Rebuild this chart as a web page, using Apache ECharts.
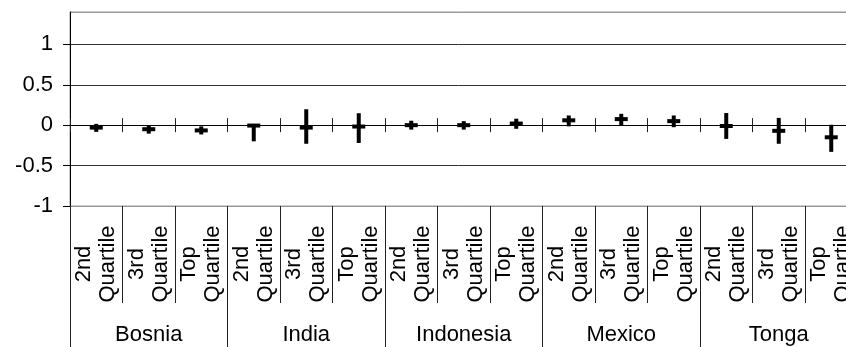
<!DOCTYPE html>
<html>
<head>
<meta charset="utf-8">
<script src="https://cdn.jsdelivr.net/npm/echarts@6/dist/echarts.min.js"></script>
<style>
  html, body { margin: 0; padding: 0; background: #fff; }
  #chart { width: 846px; height: 347px; }
</style>
</head>
<body>
<div id="chart"></div>
<script>
// Country groups and the quartile sub-categories within each group
const countries = ['Bosnia', 'India', 'Indonesia', 'Mexico', 'Tonga'];
const quartiles = ['2nd\nQuartile', '3rd\nQuartile', 'Top\nQuartile'];

// Point estimates, in category order (country × quartile)
const estimate = [-0.03, -0.05, -0.065, -0.005, -0.03, -0.017, 0.0, 0.0, 0.02, 0.06, 0.075, 0.05, -0.01, -0.07, -0.15];
// Interval bounds
const lower = [-0.083, -0.105, -0.115, -0.2, -0.23, -0.22, -0.055, -0.055, -0.045, -0.015, 0.0, -0.025, -0.17, -0.23, -0.33];
const upper = [0.016, -0.005, -0.015, 0.0, 0.197, 0.148, 0.055, 0.05, 0.08, 0.12, 0.14, 0.12, 0.15, 0.09, 0.005];

// Y axis range
const yMin = -1, yMax = 1.4, yStep = 0.5;

const categories = [];
countries.forEach(() => quartiles.forEach(q => categories.push(q)));
const points = categories.map((c, i) => [i, estimate[i], lower[i], upper[i]]);

const FONT = 'Liberation Sans, Arial, sans-serif';

const chart = echarts.init(document.getElementById('chart'), null, { renderer: 'canvas' });

chart.setOption({
  animation: false,
  backgroundColor: '#fff',
  grid: {
    // plot area runs past the right edge of the canvas
    left: 70, width: 787.5, top: 12, bottom: 141,
    outerBoundsMode: 'none', containLabel: false,
    show: true, borderColor: '#999', borderWidth: 1, backgroundColor: 'transparent'
  },
  xAxis: [
    {
      // quartile labels and their dividers
      type: 'category', data: categories, position: 'bottom',
      axisLine: { onZero: false, lineStyle: { color: '#999', width: 1 } },
      axisTick: { show: true, interval: 0, length: 97, lineStyle: { color: '#222' } },
      axisLabel: {
        interval: 0, rotate: 90, margin: 58, align: 'center', verticalAlign: 'middle',
        fontFamily: FONT, fontSize: 22, lineHeight: 24, color: '#000'
      },
      splitLine: { show: false }
    },
    {
      // country group labels and dividers
      type: 'category', data: countries, position: 'bottom',
      axisLine: { show: false, onZero: false },
      axisTick: { show: true, interval: 0, length: 150, lineStyle: { color: '#222' } },
      axisLabel: { interval: 0, margin: 118, fontFamily: FONT, fontSize: 22, color: '#000' },
      splitLine: { show: false }
    },
    {
      // zero line with ticks above
      type: 'category', data: categories, position: 'bottom',
      axisLine: { show: true, onZero: true, onZeroAxisIndex: 0, lineStyle: { color: '#000', width: 1 } },
      axisTick: { show: true, inside: true, interval: 0, length: 7, lineStyle: { color: '#222' } },
      axisLabel: { show: false },
      splitLine: { show: false }
    },
    {
      // ticks below the zero line
      type: 'category', data: categories, position: 'bottom',
      axisLine: { show: false, onZero: true, onZeroAxisIndex: 0 },
      axisTick: { show: true, inside: false, interval: 0, length: 7, lineStyle: { color: '#222' } },
      axisLabel: { show: false },
      splitLine: { show: false }
    }
  ],
  yAxis: {
    type: 'value', min: yMin, max: yMax, interval: yStep,
    axisLine: { show: true, lineStyle: { color: '#000', width: 1 } },
    axisTick: { show: true, length: 7, lineStyle: { color: '#000' } },
    axisLabel: {
      margin: 17, fontFamily: FONT, fontSize: 22, color: '#000', showMaxLabel: false,
      formatter: v => (v > 1.2 ? '' : String(v))
    },
    splitLine: { show: true, lineStyle: { color: ['#999', '#333', '#000', '#333', '#333', '#999'], width: 1 } }
  },
  series: [{
    type: 'custom',
    xAxisIndex: 0, yAxisIndex: 0,
    data: points,
    encode: { x: 0, y: [1, 2, 3] },
    renderItem: function (params, api) {
      const i = api.value(0);
      const pEst = api.coord([i, api.value(1)]);
      const pLo = api.coord([i, api.value(2)]);
      const pHi = api.coord([i, api.value(3)]);
      const half = 6.5;
      const style = { stroke: '#000', lineWidth: 4, lineCap: 'butt' };
      return {
        type: 'group',
        children: [
          { type: 'line', shape: { x1: pLo[0], y1: pLo[1], x2: pHi[0], y2: pHi[1] }, style: style },
          { type: 'line', shape: { x1: pEst[0] - half, y1: pEst[1], x2: pEst[0] + half, y2: pEst[1] }, style: style }
        ]
      };
    },
    z: 10
  }]
});
</script>
</body>
</html>
